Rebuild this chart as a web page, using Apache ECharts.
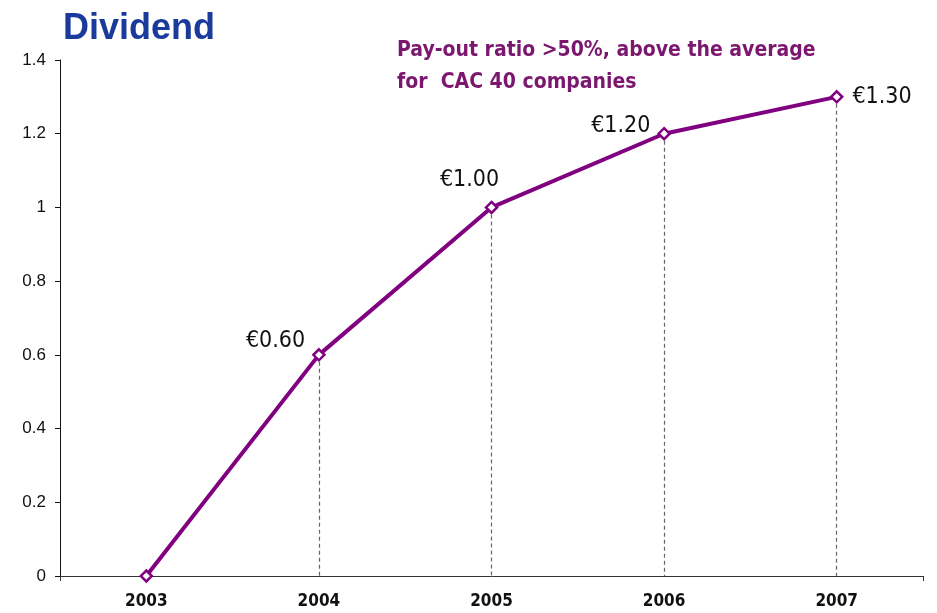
<!DOCTYPE html>
<html>
<head>
<meta charset="utf-8">
<script src="https://cdn.jsdelivr.net/npm/echarts@6/dist/echarts.min.js"></script>
<style>
  html, body { margin: 0; padding: 0; background: #fff; }
  #chart { width: 937px; height: 613px; }
</style>
</head>
<body>
<div id="chart"></div>
<script>
// dividend per share, by year
const years = ['2003', '2004', '2005', '2006', '2007'];
const dividends = [0, 0.6, 1.0, 1.2, 1.3];
const valueLabels = ['', '€0.60', '€1.00', '€1.20', '€1.30'];

const narrow = '"Liberation Sans Narrow", "Arial Narrow", "DejaVu Sans Condensed", "Liberation Sans", sans-serif';
const arial = '"Liberation Sans", Arial, sans-serif';
const purple = '#800080';

// label placement for each point (left/top/right like the original slide)
const labelPos = [
  { show: false },
  { position: 'left', offset: [-2, -14] },
  { position: 'top', offset: [-22, -4] },
  { position: 'left', offset: [-2, -8] },
  { position: 'right', offset: [4, 0] }
];

const seriesData = dividends.map((v, i) => ({
  value: v,
  label: Object.assign({ formatter: valueLabels[i] }, labelPos[i])
}));

// dashed drop lines from each point down to the x axis
const dropLines = years
  .map((y, i) => [{ coord: [y, dividends[i]] }, { coord: [y, 0] }])
  .filter((d, i) => dividends[i] > 0);

const chart = echarts.init(document.getElementById('chart'));
chart.setOption({
  animation: false,
  title: [
    {
      text: 'Dividend',
      left: 58, top: 6,
      textStyle: { color: '#1a3a9c', fontSize: 36, fontWeight: 'bold', fontFamily: arial }
    },
    {
      text: 'Pay-out ratio >50%, above the average\nfor  CAC 40 companies',
      left: 392, top: 30,
      textStyle: { color: '#7b176f', fontSize: 21, fontWeight: 'bold', fontFamily: narrow, lineHeight: 32 }
    }
  ],
  grid: { left: 60, right: 14, top: 60, bottom: 37 },
  xAxis: {
    type: 'category',
    data: years,
    boundaryGap: true,
    axisLine: { lineStyle: { color: '#333', width: 1 } },
    axisTick: { show: true, length: 5, interval: i => i === 0, lineStyle: { color: '#333' } },
    axisLabel: { color: '#111', fontSize: 17, fontWeight: 'bold', fontFamily: narrow, margin: 17 }
  },
  yAxis: {
    type: 'value',
    min: 0, max: 1.4, interval: 0.2,
    axisLine: { show: true, lineStyle: { color: '#111', width: 1 } },
    axisTick: { show: true, length: 5, lineStyle: { color: '#111' } },
    splitLine: { show: false },
    axisLabel: {
      color: '#111', fontSize: 17, fontFamily: arial, margin: 14,
      formatter: v => String(+v.toFixed(1))
    }
  },
  series: [{
    type: 'line',
    data: seriesData,
    lineStyle: { color: purple, width: 4 },
    itemStyle: { color: '#fff', borderColor: purple, borderWidth: 2.5 },
    symbol: 'diamond',
    symbolSize: 11,
    z: 3,
    label: {
      show: true,
      color: '#111', fontSize: 23, fontFamily: narrow
    },
    markLine: {
      silent: true,
      symbol: 'none',
      label: { show: false },
      lineStyle: { color: '#666', type: [4, 3], width: 1.2 },
      data: dropLines,
      z: 1
    }
  }]
});
</script>
</body>
</html>
